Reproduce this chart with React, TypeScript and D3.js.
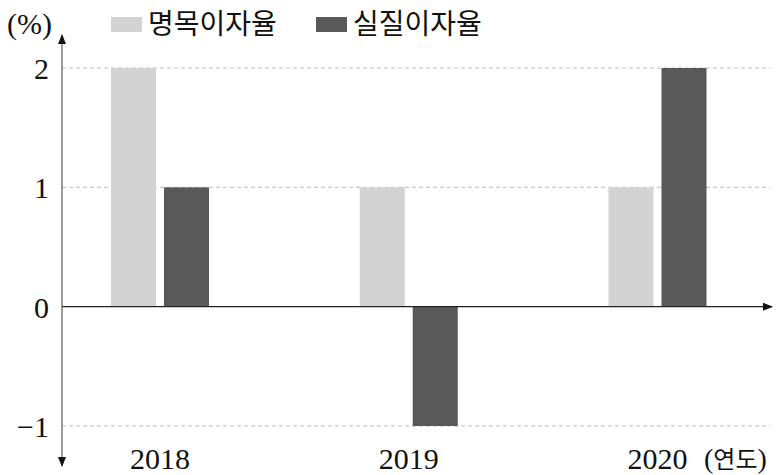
import React from "react";
import * as d3 from "d3";

const years = ["2018", "2019", "2020"];
const nominal = [2, 1, 1];
const real = [1, -1, 2];
const yTicks = [-1, 0, 1, 2];
const seriesNames = ["명목이자율", "실질이자율"];
const colors = ["#d3d3d3", "#595959"];

const W = 779;
const H = 475;
const axisX = 62;
const numFont = "'Liberation Serif', 'DejaVu Serif', serif";
const krFont = "'Noto Sans CJK KR', sans-serif";

export default function App() {
  const y = d3.scaleLinear().domain([-1, 2]).range([426, 68]);
  const x = d3.scalePoint().domain(years).range([160, 657.5]);
  const groupW = 98;
  const xs = d3.scaleBand().domain(["n", "r"]).range([0, groupW]).paddingInner(0.15);
  return (
    <svg width={W} height={H} style={{ position: "absolute", left: 0, top: 0 }}>
      <defs>
        <marker id="arr" viewBox="0 0 10 10" refX="9" refY="5" markerWidth="10" markerHeight="10" markerUnits="userSpaceOnUse" orient="auto">
          <path d="M0,1 L10,5 L0,9 Z" fill="#111" />
        </marker>
      </defs>
      {yTicks.filter((t) => t !== 0).map((t) => (
        <line key={t} x1={axisX} x2={770} y1={y(t)} y2={y(t)} stroke="#bbb" strokeWidth={1} strokeDasharray="4,3" />
      ))}
      {years.map((yr, i) => {
        const cx = x(yr) as number;
        const left = cx - groupW / 2;
        const vals = [nominal[i], real[i]];
        return (
          <g key={yr}>
            {(["n", "r"] as const).map((k, j) => (
              <rect
                key={k}
                x={left + (xs(k) as number)}
                y={y(Math.max(0, vals[j]))}
                width={xs.bandwidth()}
                height={Math.abs(y(vals[j]) - y(0))}
                fill={colors[j]}
              />
            ))}
            <text x={cx} y={469} textAnchor="middle" fontFamily={numFont} fontSize={30} fill="#111">
              {yr}
            </text>
          </g>
        );
      })}
      <line x1={axisX} x2={772} y1={y(0)} y2={y(0)} stroke="#222" strokeWidth={1.3} markerEnd="url(#arr)" />
      <line x1={axisX} x2={axisX} y1={y(0)} y2={35} stroke="#666" strokeWidth={1.3} markerEnd="url(#arr)" />
      <line x1={axisX} x2={axisX} y1={y(0)} y2={466} stroke="#666" strokeWidth={1.3} markerEnd="url(#arr)" />
      {yTicks.map((t) => (
        <text key={t} x={49} y={y(t) + 11} textAnchor="end" fontFamily={numFont} fontSize={30} fill="#111">
          {t < 0 ? "\u2212" + Math.abs(t) : t}
        </text>
      ))}
      <text x={7} y={34} fontFamily={numFont} fontSize={30} fill="#111">(%)</text>
      <text x={704} y={468} fill="#111">
        <tspan fontFamily={numFont} fontSize={28}>(</tspan>
        <tspan fontFamily={krFont} fontSize={24}>연도</tspan>
        <tspan fontFamily={numFont} fontSize={28}>)</tspan>
      </text>
      {seriesNames.map((name, i) => (
        <g key={name} transform={`translate(${111 + i * 205},0)`}>
          <rect x={0} y={17} width={31} height={15} fill={colors[i]} />
          <text x={37} y={34} fontFamily={krFont} fontSize={28} fill="#111">{name}</text>
        </g>
      ))}
    </svg>
  );
}
